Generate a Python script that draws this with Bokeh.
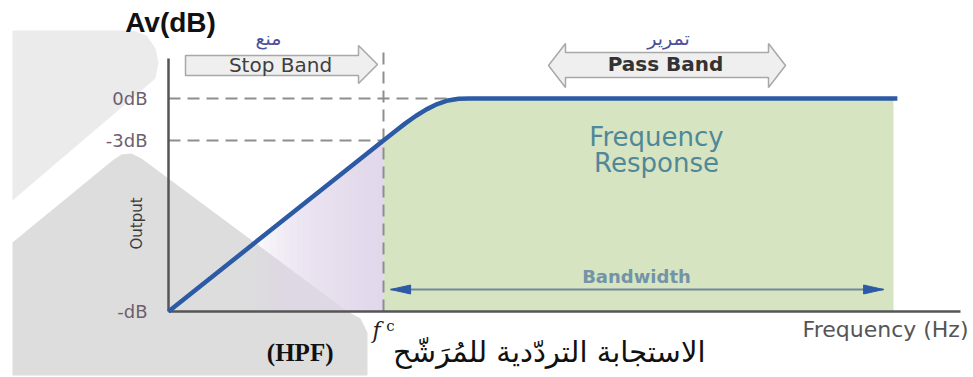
import numpy as np
from bokeh.plotting import figure
from bokeh.models import Range1d
from bokeh.embed import file_html
from bokeh.resources import INLINE
from bokeh.core.properties import value

# High-pass filter response, normalised: frequency relative to the cut-off fc,
# output relative to the 0 dB pass-band level (0 is the "-dB" floor).
freq = [0.0, 1.0, 1.05, 1.10, 1.15, 1.20, 1.25, 1.30, 1.35, 1.40, 3.39]
gain = [0.0, 0.803, 0.843, 0.882, 0.918, 0.949, 0.974, 0.991, 0.999, 1.0, 1.0]

fc = 1.0
passband_end = 3.372
bandwidth = [1.033, 3.326]

level_labels = ["0dB", "-3dB", "-dB"]
level_values = [1.0, 0.803, 0.0]

W, H = 973, 377
x_range = Range1d(-0.7814, 3.7442)
y_range = Range1d(-0.3099, 1.4601)
PX_X = W / (x_range.end - x_range.start)   # pixels per frequency unit
PX_Y = H / (y_range.end - y_range.start)   # pixels per level unit

SANS = value("DejaVu Sans")
SERIF = value("DejaVu Serif")

p = figure(width=W, height=H, x_range=x_range, y_range=y_range,
           output_backend="svg", toolbar_location=None,
           x_axis_location=None, y_axis_location=None,
           min_border=0, outline_line_color=None,
           background_fill_color="white", border_fill_color="white")
p.grid.visible = False

# soft grey backdrop shapes
p.patch([-0.7256, -0.1674, -0.1023, -0.0605, -0.0465, -0.0605, -0.7256],
        [1.3192, 1.3192, 1.2958, 1.2347, 1.1690, 1.0939, 0.5211],
        fill_color="#ebebeb", line_color=None)
p.patch([-0.7256, -0.2605, -0.2186, -0.1721, -0.1256, 0.8326, 0.8930, 0.9256, 0.9256, -0.7256],
        [0.3239, 0.7089, 0.7371, 0.7418, 0.7183, 0.0, -0.0329, -0.0986, -0.3005, -0.3005],
        fill_color="#dddddd", line_color=None)

# stop-band shading: lavender fading in towards fc
n_layers = 20
starts = np.linspace(0.38, 0.97, n_layers)
xs, ys = [], []
for a in starts:
    xs.append([a, fc, fc, a])
    ys.append([0.0, 0.0, float(np.interp(fc, freq, gain)), float(np.interp(a, freq, gain))])
p.patches(xs, ys, fill_color="#e1dbee", fill_alpha=0.1, line_color=None)

# pass-band fill under the response
f_arr = np.array(freq)
g_arr = np.array(gain)
mask = (f_arr >= fc) & (f_arr <= passband_end)
fx = np.append(f_arr[mask], passband_end)
fy = np.append(g_arr[mask], np.interp(passband_end, freq, gain))
p.varea(x=fx, y1=np.zeros_like(fx), y2=fy, fill_color="#d7e4c1")

# guide lines
dash = dict(line_color="#8e8e8e", line_width=2, line_dash="12 7")
p.line([0.0, 1.40], [level_values[0]] * 2, **dash)
p.line([0.0, fc], [level_values[1]] * 2, **dash)
p.line([fc, fc], [0.0, 1.2394], **dash)

# axes
p.line([0.0, 0.0], [0.0, 1.1878], line_color="#555555", line_width=2.5)
p.line([0.0, 3.6837], [0.0, 0.0], line_color="#555555", line_width=2.5)

# response curve
p.line(freq, gain, line_color="#2c5aa5", line_width=4.5)

# level labels
p.text(x=[-0.0977] * 3, y=level_values, text=level_labels, text_font=SANS,
       text_font_size="18px", text_color="#6e5f6e", text_align="right",
       text_baseline="middle")
p.text(x=[-0.1442], y=[0.4131], text=["Output"], angle=np.pi / 2, text_font=SANS,
       text_font_size="15px", text_color="#3a3a3a", text_align="center",
       text_baseline="middle")
p.text(x=[0.0093], y=[1.3568], text=["Av(dB)"], text_font=value("Liberation Sans"),
       text_font_size="28px", text_font_style="bold", text_color="#111111",
       text_align="center", text_baseline="middle")

# stop-band and pass-band arrows
arrow_style = dict(fill_color="#efefef", line_color="#a8a8a8", line_width=1.5)
p.patch([0.0791, 0.8837, 0.8837, 0.9721, 0.8837, 0.8837, 0.0791],
        [1.2019, 1.2019, 1.2488, 1.1596, 1.0704, 1.1080, 1.1080], **arrow_style)
p.patch([1.7674, 1.8465, 1.8465, 2.7907, 2.7907, 2.8698, 2.7907, 2.7907, 1.8465, 1.8465],
        [1.1549, 1.2582, 1.2160, 1.2160, 1.2582, 1.1549, 1.0516, 1.0986, 1.0986, 1.0516],
        **arrow_style)
p.text(x=[0.5209], y=[1.1596], text=["Stop Band"], text_font=SANS,
       text_font_size="20px", text_color="#3f3f3f", text_align="center",
       text_baseline="middle")
p.text(x=[2.3116], y=[1.1643], text=["Pass Band"], text_font=SANS,
       text_font_size="20px", text_font_style="bold", text_color="#333333",
       text_align="center", text_baseline="middle")
p.text(x=[0.4651, 2.3256], y=[1.2817, 1.2817], text=["منع", "تمرير"], text_font=SANS,
       text_font_size="19px", text_color="#4b4f9c", text_align="center",
       text_baseline="middle")

# pass-band caption
p.text(x=[2.2698, 2.2698], y=[0.8169, 0.6995], text=["Frequency", "Response"],
       text_font=SANS, text_font_size="26px", text_color="#4f8899",
       text_align="center", text_baseline="middle")

# bandwidth arrow
p.line(bandwidth, [0.1033, 0.1033], line_color="#6f8a9a", line_width=2)
head_len = 20 / PX_X
head_half = 4.5 / PX_Y
p.patches([[bandwidth[0], bandwidth[0] + head_len, bandwidth[0] + head_len],
           [bandwidth[1], bandwidth[1] - head_len, bandwidth[1] - head_len]],
          [[0.1033, 0.1033 + head_half, 0.1033 - head_half]] * 2,
          fill_color="#2c5aa5", line_color="#2c5aa5", line_width=1)
p.text(x=[2.1767], y=[0.1643], text=["Bandwidth"], text_font=SANS,
       text_font_size="18px", text_font_style="bold", text_color="#7393a8",
       text_align="center", text_baseline="middle")

# x-axis labels
p.text(x=[3.7209], y=[-0.0845], text=["Frequency (Hz)"], text_font=SANS,
       text_font_size="22px", text_color="#555555", text_align="right",
       text_baseline="middle")
p.text(x=[0.9674], y=[-0.0892], text=["f"], text_font=SERIF,
       text_font_size="22px", text_font_style="italic", text_color="#222222",
       text_align="center", text_baseline="middle")
p.text(x=[1.0326], y=[-0.0704], text=["c"], text_font=SERIF,
       text_font_size="15px", text_color="#222222", text_align="center",
       text_baseline="middle")

# figure caption
p.text(x=[2.4977], y=[-0.1925], text=["الاستجابة التردّدية للمُرَشّح"], text_font=SANS,
       text_font_size="29px", text_color="#111111", text_align="right",
       text_baseline="middle")
p.text(x=[0.7674], y=[-0.1925], text=["(HPF)"], text_font=value("Liberation Serif"),
       text_font_size="25px", text_font_style="bold", text_color="#111111",
       text_align="right", text_baseline="middle")

open("out.html", "w").write(file_html(p, INLINE))
